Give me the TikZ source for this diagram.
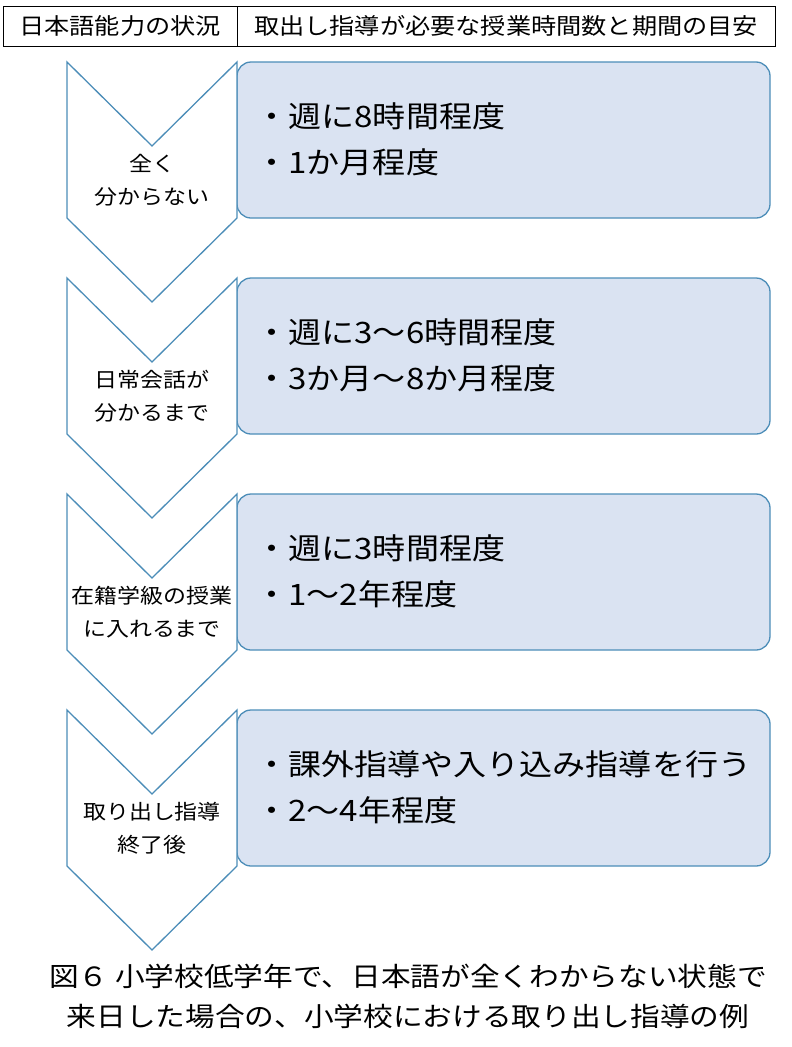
\documentclass[tikz,border=0pt]{standalone}
\usepackage{fontspec}
\setmainfont{Noto Sans CJK JP}
\newfontfamily\wide[FakeStretch=1.12]{Noto Sans CJK JP}
\begin{document}
\begin{tikzpicture}[x=1pt,y=-1pt,
  chev/.style={draw=blue!40!cyan!60!black!70, fill=white, line width=1.3pt},
  bx/.style={draw=blue!40!cyan!60!black!70, fill={rgb,255:red,218;green,227;blue,242}, line width=1.3pt, rounded corners=14pt},
  ctext/.style={font=\wide\fontsize{20.5}{33}\selectfont, align=center},
  btext/.style={font=\wide\fontsize{29.5}{46}\selectfont, align=left, anchor=west},
  htext/.style={font=\wide\fontsize{22.5}{24}\selectfont}]
\useasboundingbox (0,0) rectangle (792,1047);
\draw[line width=1pt] (3,6) rectangle (775,46);
\draw[line width=1pt] (237,6) -- (237,46);
\node[htext] (h1) at (120,26) {日本語能力の状況};
\node[htext] (h2) at (506,26) {取出し指導が必要な授業時間数と期間の目安};
\foreach \i/\c/\a/\b in {0/{全く\\分からない}/{・週に8時間程度}/{・1か月程度},
  1/{日常会話が\\分かるまで}/{・週に3〜6時間程度}/{・3か月〜8か月程度},
  2/{在籍学級の授業\\に入れるまで}/{・週に3時間程度}/{・1〜2年程度},
  3/{取り出し指導\\終了後}/{・課外指導や入り込み指導を行う}/{・2〜4年程度}}{
  \pgfmathsetmacro{\t}{62+216*\i}
  \draw[bx] (237,\t) rectangle (770,\t+156);
  \draw[chev] (67,\t) -- (152,\t+84) -- (237,\t) -- (237,\t+156) -- (152,\t+240) -- (67,\t+156) -- cycle;
  \node[ctext] (c\i) at (152,\t+118) {\c};
  \node[btext] (b\i) at (252,\t+77) {\a\\\b};
}
\node[font=\wide\fontsize{26.5}{40}\selectfont, align=center] (cap) at (408,996) {図６ 小学校低学年で、日本語が全くわからない状態で\\来日した場合の、小学校における取り出し指導の例};
\end{tikzpicture}
\end{document}
